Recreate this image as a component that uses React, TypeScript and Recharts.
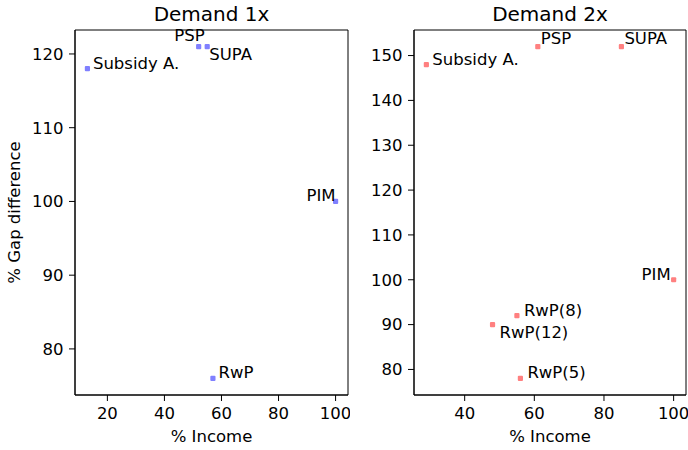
import React from 'react';
import {
  ScatterChart,
  Scatter,
  XAxis,
  YAxis,
  ReferenceArea,
} from 'recharts';

const names1x = ['Subsidy A.', 'PSP', 'SUPA', 'PIM', 'RwP'];
const income1x = [13, 52, 55, 100, 57];
const gap1x = [118, 121, 121, 100, 76];

const names2x = ['Subsidy A.', 'PSP', 'SUPA', 'PIM', 'RwP(8)', 'RwP(12)', 'RwP(5)'];
const income2x = [29, 61, 85, 100, 55, 48, 56];
const gap2x = [148, 152, 152, 100, 92, 90, 78];

const xTicks1x = [20, 40, 60, 80, 100];
const yTicks1x = [80, 90, 100, 110, 120];
const xTicks2x = [40, 60, 80, 100];
const yTicks2x = [80, 90, 100, 110, 120, 130, 140, 150];

// where each annotation sits relative to its point (px)
const place1x: Record<string, [number, number, string]> = {
  'Subsidy A.': [5.5, 0, 'start'],
  PSP: [6, -6, 'end'],
  SUPA: [2, 13, 'start'],
  PIM: [0, 0, 'end'],
  RwP: [5.5, 0, 'start'],
};
const place2x: Record<string, [number, number, string]> = {
  'Subsidy A.': [6, 0, 'start'],
  PSP: [3, -3, 'start'],
  SUPA: [3, -3, 'start'],
  PIM: [-3, 0, 'end'],
  'RwP(8)': [7, 0, 'start'],
  'RwP(12)': [7, 13, 'start'],
  'RwP(5)': [7, 0, 'start'],
};

const FONT = '"DejaVu Sans", sans-serif';
const FS = 16.5;

function pad(vals: number[]): [number, number] {
  const lo = Math.min(...vals);
  const hi = Math.max(...vals);
  const m = (hi - lo) * 0.05;
  return [lo - m, hi + m];
}

function makeShape(color: string, place: Record<string, [number, number, string]>) {
  return (p: any) => {
    const [dx, dy, anchor] = place[p.payload.name] || [6, 0, 'start'];
    return (
      <g>
        <rect x={p.cx - 2.6} y={p.cy - 2.6} width={5.2} height={5.2} rx={1} fill={color} />
        <text
          x={p.cx + dx}
          y={p.cy + dy}
          textAnchor={anchor as any}
          fontSize={FS}
          fontFamily={FONT}
          fill="#000"
        >
          {p.payload.name}
        </text>
      </g>
    );
  };
}

interface PanelProps {
  title: string;
  names: string[];
  income: number[];
  gap: number[];
  xTicks: number[];
  yTicks: number[];
  color: string;
  place: Record<string, [number, number, string]>;
  width: number;
  yAxisWidth: number;
  showYLabel: boolean;
}

function Panel(props: PanelProps) {
  const data = props.names.map((name, i) => ({
    name,
    income: props.income[i],
    gap: props.gap[i],
  }));
  const xd = pad(props.income);
  const yd = pad(props.gap);
  const tick = { fontSize: FS, fontFamily: FONT, fill: '#000' };
  const plotCenter = props.yAxisWidth + (props.width - props.yAxisWidth - 2) / 2;

  return (
    <ScatterChart
      width={props.width}
      height={450}
      margin={{ top: 30, right: 2, left: 0, bottom: 0 }}
    >
      <text
        x={plotCenter}
        y={20.7}
        textAnchor="middle"
        fontSize={20}
        fontFamily={FONT}
        fill="#000"
      >
        {props.title}
      </text>
      <XAxis
        type="number"
        dataKey="income"
        domain={xd}
        ticks={props.xTicks}
        height={55}
        tick={tick}
        tickSize={6}
        tickMargin={6.5}
        stroke="#000"
        label={{
          value: '% Income',
          position: 'insideBottom',
          offset: 8,
          style: { fontSize: FS, fontFamily: FONT, fill: '#000' },
        }}
      />
      <YAxis
        type="number"
        dataKey="gap"
        domain={yd}
        ticks={props.yTicks}
        width={props.yAxisWidth}
        tick={tick}
        tickSize={6}
        tickMargin={5.5}
        stroke="#000"
        label={
          props.showYLabel
            ? {
                value: '% Gap difference',
                angle: -90,
                position: 'insideLeft',
                offset: 14,
                style: { fontSize: FS, fontFamily: FONT, fill: '#000', textAnchor: 'middle' },
              }
            : undefined
        }
      />
      <ReferenceArea
        x1={xd[0]}
        x2={xd[1]}
        y1={yd[0]}
        y2={yd[1]}
        fill="none"
        stroke="#000"
        strokeWidth={1}
      />
      <Scatter
        data={data}
        isAnimationActive={false}
        shape={makeShape(props.color, props.place)}
      />
    </ScatterChart>
  );
}

export default function App() {
  return (
    <div
      style={{
        position: 'absolute',
        left: 0,
        top: 0,
        width: 688,
        height: 450,
        background: '#fff',
        fontFamily: FONT,
      }}
    >
      <div style={{ position: 'absolute', left: 0, top: 0 }}>
        <Panel
          title="Demand 1x"
          names={names1x}
          income={income1x}
          gap={gap1x}
          xTicks={xTicks1x}
          yTicks={yTicks1x}
          color="#8080ff"
          place={place1x}
          width={350}
          yAxisWidth={75}
          showYLabel
        />
      </div>
      <div style={{ position: 'absolute', left: 350, top: 0 }}>
        <Panel
          title="Demand 2x"
          names={names2x}
          income={income2x}
          gap={gap2x}
          xTicks={xTicks2x}
          yTicks={yTicks2x}
          color="#ff8080"
          place={place2x}
          width={338}
          yAxisWidth={64}
          showYLabel={false}
        />
      </div>
    </div>
  );
}
